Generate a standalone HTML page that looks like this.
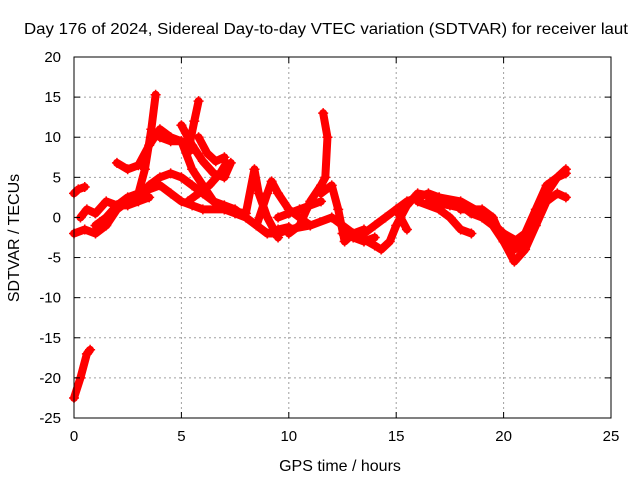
<!DOCTYPE html>
<html><head><meta charset="utf-8"><style>
body{margin:0;background:#fff;}
svg{display:block;font-family:"Liberation Sans",sans-serif;}
</style></head><body>
<svg id="chart" width="640" height="480">
<rect width="640" height="480" fill="#fff"/>
<g id="grid"></g><g id="series"></g><g id="axes"></g>
</svg>
<script>
const xTicks=[0,5,10,15,20,25];
const yTicks=[20,15,10,5,0,-5,-10,-15,-20,-25];
const track1=[[0,3],[0.2,3.5],[0.5,3.8]];
const track2=[[0,-22.5],[0.3,-20],[0.6,-17],[0.75,-16.5]];
const track3=[[0,-2],[0.5,-1.5],[1,-2],[1.5,-1],[2,1],[2.5,2],[3,2.5],[3.5,4],[4,5],[4.5,5.5],[5,5],[5.5,4],[6,3],[6.5,2],[7,1.5],[7.5,1],[8,0],[8.5,-1],[9,-2],[9.5,-2],[10,-1.5],[11,-1],[12,0],[12.5,-1],[13,-2],[14,-3.5],[14.3,-4],[14.7,-3],[15,-1],[15.5,1.5],[16,3],[17,2.5],[18,2],[19,0.5],[20,-2],[20.5,-3],[21,-2],[21.5,1],[22,4],[22.5,5],[22.9,5.5]];
const track4=[[0.3,0],[0.6,1],[1,0.5],[1.5,2],[2,1.5],[2.5,2.5],[3,3],[3.3,6],[3.6,11],[3.8,15.3]];
const track5=[[2,6.8],[2.5,6],[3,6.5],[3.5,9],[4,11],[4.5,10],[5,9.5],[5.3,8],[5.6,12],[5.8,14.5]];
const track6=[[4,10],[4.5,9.5],[5,9.5],[5.5,6],[6,4],[6.5,2],[7,1],[7.5,0.5],[8,0],[8.5,-1],[9,-2],[9.5,-1.5],[10,-1.2]];
const track7=[[5,11.5],[5.5,9],[6,7],[6.5,5.5],[7,5],[7.3,6.8]];
const track8=[[5.8,10],[6.2,8],[6.6,7],[7,7.5]];
const track9=[[3,3],[4,4],[4.5,3],[5,2],[5.5,1.5],[6,1],[7,1],[8,0.5],[8.4,6],[8.6,3],[9,0],[9.5,-2.5]];
const track10=[[8.5,-1],[9,3],[9.2,4.5],[9.5,3],[10,1],[10.5,0],[11,-1]];
const track11=[[10,-2],[10.5,-1],[11,2],[11.5,4],[11.7,5],[11.8,10],[11.6,13]];
const track12=[[11.5,3],[12,4],[12.3,1],[12.6,-3],[13,-2],[13.5,-1.5]];
const track13=[[13,-2.5],[13.5,-2],[14,-1],[14.5,0],[15,1],[15.5,-1.5]];
const track14=[[15,1],[15.5,2],[16,2.5],[16.5,3],[17,2.5],[17.5,2],[18,1.5],[18.5,0.5],[19,0],[19.5,-1],[20,-3],[20.5,-4],[21,-3]];
const track15=[[16,2],[17,1],[17.5,0],[18,-1.5],[18.5,-2]];
const track16=[[18,1],[19,1],[19.5,0],[20,-3],[20.5,-5.5],[21,-4],[21.5,-1],[22,2],[22.5,3],[22.9,2.5]];
const track17=[[19.5,-1],[20,-2],[21,-3.5],[21.5,0],[22,3],[22.5,5],[22.9,6]];
const track18=[[1,-1],[1.5,0],[2,1.5],[2.5,1.5],[3,2],[3.5,2.5]];
const track19=[[5.3,2],[5.8,3],[6.3,4],[6.8,5.5],[7.1,6.8]];
const track20=[[9.5,0],[10,0.5],[10.5,1],[11,1.5],[11.5,2]];
const track21=[[12.5,-2],[13,-2.5],[13.5,-3],[14,-2.5]];
const track22=[[16.5,2],[17.5,1.5],[18.3,1],[18.8,0.5]];
const tracks=[track1,track2,track3,track4,track5,track6,track7,track8,track9,track10,track11,track12,track13,track14,track15,track16,track17,track18,track19,track20,track21,track22];

const X0=74,X1=611,Y0=418,Y1=57;
const sx=v=>X0+(v-0)/25*(X1-X0);
const sy=v=>Y0-(v+25)/45*(Y0-Y1);
const NS="http://www.w3.org/2000/svg";
function mk(tag,attrs,parent){const e=document.createElementNS(NS,tag);for(const k in attrs)e.setAttribute(k,attrs[k]);parent.appendChild(e);return e;}
const grid=document.getElementById('grid'),axes=document.getElementById('axes'),ser=document.getElementById('series');
xTicks.forEach(t=>{
  const x=sx(t);
  if(t>0&&t<25){const l=mk('line',{x1:x,x2:x,y1:Y1,y2:Y0,stroke:'#a0a0a0','stroke-dasharray':'2,3'},grid);
  
  }
  mk('line',{x1:x,x2:x,y1:Y0,y2:Y0-6,stroke:'#000'},axes);
  mk('line',{x1:x,x2:x,y1:Y1,y2:Y1+6,stroke:'#000'},axes);
  const tx=mk('text',{x:x,y:Y0+23,'text-anchor':'middle','font-size':15},axes);tx.textContent=t;
  
  
});
yTicks.forEach(t=>{
  const y=sy(t);
  if(t>-25&&t<20){const l=mk('line',{x1:X0,x2:X1,y1:y,y2:y,stroke:'#a0a0a0','stroke-dasharray':'2,3'},grid);
  
  }
  mk('line',{x1:X0,x2:X0+6,y1:y,y2:y,stroke:'#000'},axes);
  mk('line',{x1:X1,x2:X1-6,y1:y,y2:y,stroke:'#000'},axes);
  const tx=mk('text',{x:X0-13,y:y+5,'text-anchor':'end','font-size':15},axes);tx.textContent=t;
  
  
});
const fr=mk('rect',{x:X0,y:Y1,width:X1-X0,height:Y0-Y1,fill:'none',stroke:'#000'},axes);


tracks.forEach(tr=>{
  const pl=mk('polyline',{points:tr.map(p=>sx(p[0])+','+sy(p[1])).join(' '),fill:'none',stroke:'#ff0000','stroke-width':8,'stroke-linejoin':'round','stroke-linecap':'round'},ser);
  
  
  tr.forEach(p=>{const x=sx(p[0]),y=sy(p[1]);
    const m=mk('path',{d:`M${x-5},${y}H${x+5}M${x},${y-5}V${y+5}`,stroke:'#ff0000','stroke-width':1.5},ser);
    
    
  });
});
function txt(s,attrs,name){const t=mk('text',attrs,axes);t.textContent=s;}
txt('Day 176 of 2024, Sidereal Day-to-day VTEC variation (SDTVAR) for receiver laut',{x:24,y:34,'font-size':16,textLength:604,lengthAdjust:'spacingAndGlyphs'},'chart-title');
txt('GPS time / hours',{x:340,y:471,'text-anchor':'middle','font-size':16},'x-axis-title');
txt('SDTVAR / TECUs',{x:19,y:238,'text-anchor':'middle','font-size':16,transform:'rotate(-90 19 238)'},'y-axis-title');
</script>
</body></html>
